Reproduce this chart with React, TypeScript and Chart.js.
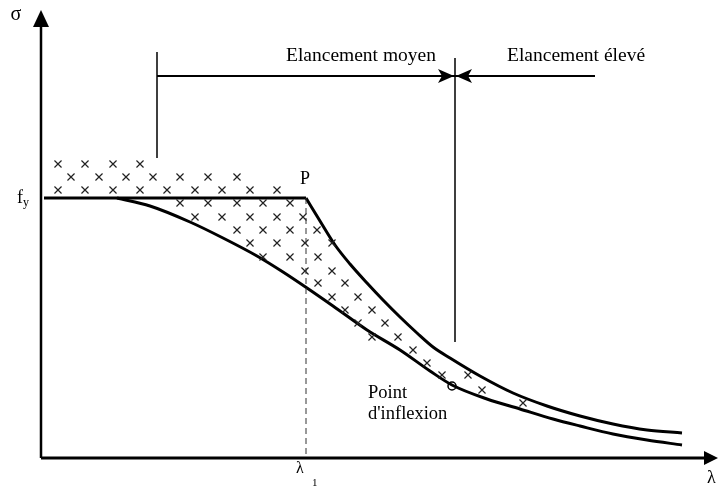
import React, { useEffect, useRef } from 'react';
import { Chart, registerables } from 'chart.js';

Chart.register(...registerables);

const W = 718;
const H = 487;

// Drawing ranges (λ horizontally, σ vertically) – schematic units
const LAMBDA_MIN = -41;
const LAMBDA_MAX = 677;
const SIGMA_MIN = -29;
const SIGMA_MAX = 458;

const FY = 260; // yield plateau level f_y
const LAMBDA_1 = 265; // end of plateau (point P)

// Plateau f_y
const plateauLambda = [3, 265];
const plateauSigma = [FY, FY];

// Upper curve (from P downwards)
const upperLambda = [265, 279, 294, 309, 326, 342, 359, 376, 392, 409, 439, 472, 506, 539, 572, 606, 641];
const upperSigma = [260, 237, 213, 194, 175, 158, 141, 125, 111, 100, 82, 65, 52, 42, 34, 28, 25];

// Lower curve (real column curve)
const lowerLambda = [76, 109, 149, 182, 216, 242, 266, 292, 326, 359, 389, 411, 446, 479, 512, 539, 572, 606, 641];
const lowerSigma = [260, 252, 236, 220, 202, 186, 170, 152, 128, 108, 87, 73, 59, 49, 39, 32, 24, 18, 13];

// Inflection point
const inflectionLambda = [411];
const inflectionSigma = [72];

// Hatch crosses (λ, σ)
const hatchPoints: [number, number][] = [
  [17, 294], [44, 294], [72, 294], [99, 294],
  [30, 281], [58, 281], [85, 281], [112, 281], [139, 281], [167, 281], [196, 281],
  [17, 268], [44, 268], [72, 268], [99, 268], [126, 268], [154, 268], [181, 268], [209, 268], [236, 268],
  [139, 255], [167, 255], [196, 255], [222, 255], [249, 255],
  [154, 241], [181, 241], [209, 241], [236, 241], [262, 241],
  [196, 228], [222, 228], [249, 228], [276, 228],
  [209, 215], [236, 215], [264, 215], [291, 215],
  [222, 201], [249, 201], [277, 201],
  [264, 187], [291, 187],
  [277, 175], [304, 175],
  [291, 161], [317, 161],
  [304, 148], [331, 148],
  [317, 135], [344, 135],
  [331, 121], [357, 121],
  [372, 108],
  [386, 95],
  [401, 83], [427, 83],
  [441, 68],
  [482, 55],
];

// Axes
const yAxisLambda = [0, 0];
const yAxisSigma = [0, 433];
const xAxisLambda = [0, 664];
const xAxisSigma = [0, 0];

// λ1 dashed guide
const lambda1Lambda = [LAMBDA_1, LAMBDA_1];
const lambda1Sigma = [FY, 0];

// Slenderness range markers
const leftTickLambda = [116, 116];
const leftTickSigma = [406, 300];
const rangeLineLambda = [116, 554];
const rangeLineSigma = [382, 382];
const dividerLambda = [414, 414];
const dividerSigma = [400, 116];

// Arrowheads (polygons in λ, σ units)
const arrowHeads: [number, number][][] = [
  [[0, 448], [-8, 431], [8, 431]],
  [[677, 0], [663, 7], [663, -7]],
  [[413, 382], [397, 389], [401, 382], [397, 375]],
  [[415, 382], [431, 389], [427, 382], [431, 375]],
];

type Label = { text: string; x: number; y: number; size: number; align: CanvasTextAlign };
const labels: Label[] = [
  { text: 'σ', x: -25, y: 438, size: 20, align: 'center' },
  { text: 'f', x: -24, y: 255, size: 18, align: 'left' },
  { text: 'y', x: -18, y: 252, size: 12, align: 'left' },
  { text: 'P', x: 264, y: 274, size: 18, align: 'center' },
  { text: 'Elancement moyen', x: 245, y: 397, size: 19.5, align: 'left' },
  { text: 'Elancement élevé', x: 466, y: 397, size: 19.5, align: 'left' },
  { text: 'Point', x: 327, y: 60, size: 18.5, align: 'left' },
  { text: "d'inflexion", x: 327, y: 39, size: 18.5, align: 'left' },
  { text: 'λ', x: 666, y: -25, size: 18, align: 'left' },
  { text: 'λ', x: 255, y: -15, size: 16, align: 'left' },
  { text: '1', x: 271, y: -28, size: 11, align: 'left' },
];

const zip = (xs: number[], ys: number[]) => xs.map((x, i) => ({ x, y: ys[i] }));

const INK = '#000';
const FONT = '"Liberation Serif", "Times New Roman", serif';

const overlayPlugin = {
  id: 'overlay',
  afterDatasetsDraw(chart: any) {
    const { ctx } = chart;
    const xs = chart.scales.x;
    const ys = chart.scales.y;
    ctx.save();
    ctx.fillStyle = INK;
    for (const poly of arrowHeads) {
      ctx.beginPath();
      poly.forEach(([l, s], i) => {
        const px = xs.getPixelForValue(l);
        const py = ys.getPixelForValue(s);
        if (i === 0) ctx.moveTo(px, py);
        else ctx.lineTo(px, py);
      });
      ctx.closePath();
      ctx.fill();
    }
    ctx.textBaseline = 'alphabetic';
    for (const lb of labels) {
      ctx.font = `${lb.size}px ${FONT}`;
      ctx.textAlign = lb.align;
      ctx.fillText(lb.text, xs.getPixelForValue(lb.x), ys.getPixelForValue(lb.y));
    }
    ctx.restore();
  },
};

const lineDs = (data: { x: number; y: number }[], width: number, extra: any = {}) => ({
  data,
  showLine: true,
  borderColor: INK,
  borderWidth: width,
  pointRadius: 0,
  pointHoverRadius: 0,
  fill: false,
  clip: false,
  ...extra,
});

export default function App() {
  const ref = useRef<HTMLCanvasElement>(null);

  useEffect(() => {
    if (!ref.current) return;
    const chart = new Chart(ref.current, {
      type: 'scatter',
      data: {
        datasets: [
          lineDs(zip(yAxisLambda, yAxisSigma), 2.5),
          lineDs(zip(xAxisLambda, xAxisSigma), 3),
          lineDs(zip(lambda1Lambda, lambda1Sigma), 1, { borderDash: [6, 4], borderColor: '#333' }),
          lineDs(zip(leftTickLambda, leftTickSigma), 1.5),
          lineDs(zip(rangeLineLambda, rangeLineSigma), 2),
          lineDs(zip(dividerLambda, dividerSigma), 1.5),
          {
            data: hatchPoints.map(([x, y]) => ({ x, y })),
            showLine: false,
            pointStyle: 'crossRot',
            pointRadius: 5,
            pointBorderWidth: 1.2,
            borderColor: '#222',
            backgroundColor: '#222',
            clip: false,
          },
          lineDs(zip(plateauLambda, plateauSigma), 3.2),
          lineDs(zip(upperLambda, upperSigma), 3, { cubicInterpolationMode: 'monotone' }),
          lineDs(zip(lowerLambda, lowerSigma), 3, { cubicInterpolationMode: 'monotone' }),
          {
            data: zip(inflectionLambda, inflectionSigma),
            showLine: false,
            pointStyle: 'circle',
            pointRadius: 4,
            pointBorderWidth: 1.5,
            borderColor: INK,
            backgroundColor: 'rgba(0,0,0,0)',
            clip: false,
          },
        ],
      },
      options: {
        animation: false,
        responsive: false,
        maintainAspectRatio: false,
        events: [],
        layout: { padding: 0, autoPadding: false },
        plugins: { legend: { display: false }, tooltip: { enabled: false }, title: { display: false } },
        scales: {
          x: { type: 'linear', min: LAMBDA_MIN, max: LAMBDA_MAX, display: false },
          y: { type: 'linear', min: SIGMA_MIN, max: SIGMA_MAX, display: false },
        },
      },
      plugins: [overlayPlugin],
    });
    return () => chart.destroy();
  }, []);

  return (
    <div style={{ position: 'fixed', left: 0, top: 0, width: W, height: H, background: '#fff' }}>
      <canvas ref={ref} width={W} height={H} style={{ display: 'block', width: W, height: H }} />
    </div>
  );
}
